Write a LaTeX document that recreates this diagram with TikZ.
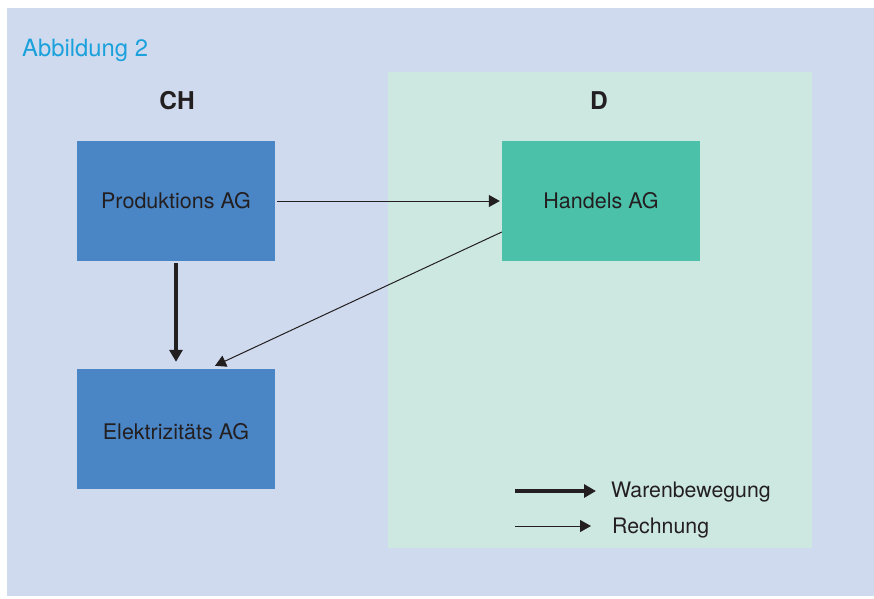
\documentclass[tikz,border=0pt]{standalone}
\usepackage{fontspec}
\setmainfont{TeX Gyre Heros}
\usetikzlibrary{arrows.meta}
\definecolor{bgblue}{HTML}{CFDAEE}
\definecolor{bggreen}{HTML}{CDE8E1}
\definecolor{boxblue}{HTML}{4A86C6}
\definecolor{boxteal}{HTML}{4CC1A9}
\definecolor{titlecyan}{HTML}{1AA1DC}
\definecolor{ink}{HTML}{231F20}
\tikzset{
  company/.style={rectangle,minimum width=198pt,minimum height=120pt,inner sep=0pt,
    font=\fontsize{21.5}{24}\selectfont,text=ink},
  cbox/.style={company,fill=boxblue},
  tbox/.style={company,fill=boxteal},
  country/.style={font=\fontsize{24.5}{28}\selectfont\bfseries,text=ink,inner sep=0pt},
  lbl/.style={font=\fontsize{21.3}{24}\selectfont,text=ink,inner sep=0pt},
  goods/.style={line width=4.5pt,ink,-{Triangle[length=12pt,width=13pt]}},
  bill/.style={line width=1pt,ink,-{Triangle[length=11pt,width=12pt]}},
}
\begin{document}
\begin{tikzpicture}[x=1pt,y=-1pt]
  \useasboundingbox (0,0) rectangle (874,598);
  % ---------- background and the German area ----------
  \fill[bgblue] (7,8) rectangle (874,596);
  \fill[bggreen] (388,72) rectangle (812,548);
  \node[anchor=west,inner sep=0pt,text=titlecyan,font=\fontsize{23.8}{27}\selectfont] (title) at (22,50) {Abbildung 2};
  \node[country] (ch) at (177,101) {CH};
  \node[country] (de) at (599,101) {D};
  % ---------- companies ----------
  \node[cbox] (prod) at (176,201) {Produktions AG};
  \node[cbox,text height=22pt] (elek) at (176,429) {Elektrizitäts AG};
  \node[tbox] (hand) at (601,201) {Handels AG};
  % ---------- flows ----------
  \draw[goods,shorten <=2pt,shorten >=7pt] (prod) -- (elek);
  \draw[bill,shorten <=2pt,shorten >=2pt] (prod.east) -- (hand.west);
  \coordinate (hout) at ([yshift=-31pt]hand.west);
  \coordinate (ein) at ([xshift=39pt,yshift=3pt]elek.north);
  \draw[bill] (hout) -- (ein);
  % ---------- legend ----------
  \node[lbl,anchor=west] (ware) at (611,492) {Warenbewegung};
  \node[lbl,anchor=west] (rech) at (612,528) {Rechnung};
  \coordinate (w0) at (515,491);
  \coordinate (r0) at (515,526);
  \draw[goods,shorten >=15pt] (w0) -- (w0 -| ware.west);
  \draw[bill,shorten >=21pt] (r0) -- (r0 -| rech.west);
\end{tikzpicture}
\end{document}
